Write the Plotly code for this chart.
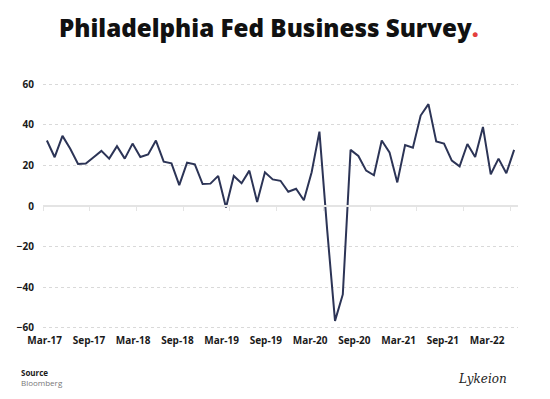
import plotly.graph_objects as go

# Monthly index values, Mar-17 .. Mar-22
months = ["Mar-17","Apr-17","May-17","Jun-17","Jul-17","Aug-17","Sep-17","Oct-17","Nov-17","Dec-17",
          "Jan-18","Feb-18","Mar-18","Apr-18","May-18","Jun-18","Jul-18","Aug-18","Sep-18","Oct-18",
          "Nov-18","Dec-18","Jan-19","Feb-19","Mar-19","Apr-19","May-19","Jun-19","Jul-19","Aug-19",
          "Sep-19","Oct-19","Nov-19","Dec-19","Jan-20","Feb-20","Mar-20","Apr-20","May-20","Jun-20",
          "Jul-20","Aug-20","Sep-20","Oct-20","Nov-20","Dec-20","Jan-21","Feb-21","Mar-21","Apr-21",
          "May-21","Jun-21","Jul-21","Aug-21","Sep-21","Oct-21","Nov-21","Dec-21","Jan-22","Feb-22","Mar-22"]
values = [32.2, 24.0, 34.5, 28.2, 20.7, 20.9, 24.0, 27.1, 23.3, 29.4,
          23.3, 30.7, 24.1, 25.4, 32.2, 21.8, 21.0, 10.3, 21.3, 20.5,
          10.8, 11.0, 14.8, -0.7, 14.8, 11.2, 17.4, 2.0, 16.6, 13.1,
          12.4, 7.0, 8.5, 2.8, 16.6, 36.6, -12.0, -56.5, -43.5, 27.6,
          24.6, 17.4, 15.1, 32.2, 26.4, 11.6, 30.0, 28.7, 44.5, 50.1,
          31.7, 30.7, 22.3, 19.5, 30.5, 24.1, 38.9, 15.6, 23.3, 16.1, 27.6]
tick_labels = ["Mar-17","Sep-17","Mar-18","Sep-18","Mar-19","Sep-19",
               "Mar-20","Sep-20","Mar-21","Sep-21","Mar-22"]
y_ticks = [-60, -40, -20, 0, 20, 40, 60]

idx = list(range(len(months)))
tick_between = [i - 0.5 for i in idx[::6]][:len(tick_labels)]

# the page body adds an 8px offset, so the figure is laid out 8px smaller
W, H = 542, 391
L, R, T, B = 35.3, 32.1, 74.2, 69.2
PW, PH = W - L - R, H - T - B

def px_x(x):  # figure px -> paper fraction
    return (x - L) / PW

def px_y(y):
    return (H - B - y) / PH

fig = go.Figure()
fig.add_trace(go.Scatter(x=idx, y=values, mode="lines", customdata=months,
                         line=dict(color="#2c3456", width=2),
                         hovertemplate="%{customdata}: %{y}<extra></extra>"))
fig.add_trace(go.Scatter(x=[0, len(tick_labels) - 1], y=[0, 0], xaxis="x2", mode="markers",
                         marker=dict(opacity=0), hoverinfo="skip", showlegend=False))

dark = "#1a1a1a"
fig.update_layout(
    width=W, height=H,
    margin=dict(l=L, r=R, t=T, b=B, autoexpand=False),
    paper_bgcolor="white", plot_bgcolor="white",
    showlegend=False,
    font=dict(family="'Open Sans', Lato, sans-serif", color=dark),
    xaxis=dict(range=[-0.5, len(idx) - 0.5], anchor="free", position=0.5,
               showgrid=False, zeroline=False, showline=True, linecolor="#e4e4e4", linewidth=1.5,
               ticks="outside", ticklen=4, tickcolor="#e4e4e4", tickwidth=1,
               tickvals=tick_between, showticklabels=False),
    xaxis2=dict(overlaying="x", anchor="y", side="bottom",
                range=[-0.038, 10.699], tickvals=list(range(len(tick_labels))), ticktext=tick_labels,
                showgrid=False, zeroline=False, showline=False, ticks="",
                tickfont=dict(size=10, weight="bold", color=dark), ticklabelstandoff=3),
    yaxis=dict(range=[-61, 61], tickvals=y_ticks, showgrid=True, gridcolor="#d9d9d9",
               griddash="dot", gridwidth=1, zeroline=True, zerolinecolor="#e4e4e4", zerolinewidth=1.5,
               ticks="", tickfont=dict(size=10, weight="bold", color=dark), ticklabelstandoff=8),
)

fig.add_annotation(xref="paper", yref="paper", x=px_x(261), xanchor="center",
                   y=px_y(20), yanchor="middle",
                   text="Philadelphia Fed Business Survey<span style='color:#e4403d'>.</span>",
                   showarrow=False, font=dict(size=24.2, weight=800, color="#111111"))
fig.add_annotation(xref="paper", yref="paper", x=px_x(11.3), xanchor="left",
                   y=px_y(369.5), yanchor="middle", align="left",
                   text="<b>Source</b><br><span style='color:#777777'>Bloomberg</span>",
                   showarrow=False, font=dict(size=8, color=dark))
fig.add_annotation(xref="paper", yref="paper", x=px_x(501), xanchor="right",
                   y=px_y(371), yanchor="middle",
                   text="<i>Lykeion</i>", showarrow=False,
                   font=dict(size=12, color="#222222", family="'DejaVu Serif', serif"))

fig.write_html("out.html")
